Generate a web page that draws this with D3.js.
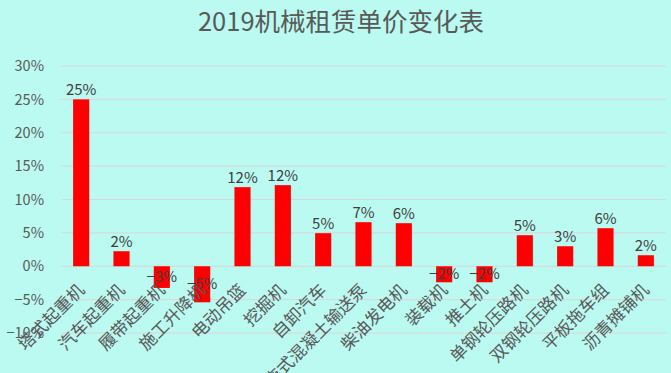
<!DOCTYPE html>
<html><head><meta charset="utf-8">
<script src="https://cdn.jsdelivr.net/npm/d3@7"></script>
<style>
html,body{margin:0;padding:0;background:#bbfaf0;}
svg{display:block;}
text{font-family:"Noto Sans CJK SC","Noto Sans",sans-serif;fill:#595959;}
</style></head>
<body>
<script>
const title = "2019机械租赁单价变化表";
const categories = ["塔式起重机","汽车起重机","履带起重机","施工升降机","电动吊篮","挖掘机","自卸汽车","拖式混凝土输送泵","柴油发电机","装载机","推土机","单钢轮压路机","双钢轮压路机","平板拖车组","沥青摊铺机"];
const values = [0.250,0.0225,-0.0325,-0.054,0.1185,0.1215,0.0495,0.066,0.0645,-0.024,-0.024,0.0465,0.030,0.057,0.0165];
const yTicks = [-0.10,-0.05,0,0.05,0.10,0.15,0.20,0.25,0.30];

const W=671,H=373;
const svg=d3.select("body").append("svg").attr("width",W).attr("height",H);
svg.append("rect").attr("width",W).attr("height",H).attr("fill","#bbfaf0");

const x=d3.scaleBand().domain(categories).range([61,666]).paddingInner(0.6).paddingOuter(0.3);
const y=d3.scaleLinear().domain([-0.10,0.30]).range([333,66]);
const fmt=d3.format(".0%");

svg.append("text").attr("x",341).attr("y",31).attr("text-anchor","middle")
  .style("font-size","25.5px").text(title);

// gridlines
svg.append("g").selectAll("line").data(yTicks).join("line")
  .attr("x1",61).attr("x2",666).attr("y1",d=>y(d)).attr("y2",d=>y(d))
  .attr("stroke","#dcd4d8").attr("stroke-width",1);

// y axis labels
const yAxis=d3.axisLeft(y).tickValues(yTicks).tickFormat(fmt).tickSize(0).tickPadding(0);
const ga=svg.append("g").attr("transform","translate(44,0)").call(yAxis);
ga.select(".domain").remove();
ga.selectAll("text").style("font-size","14.5px").attr("fill","#595959").attr("font-family",null);

// bars
svg.append("g").selectAll("rect").data(values).join("rect")
  .attr("x",(d,i)=>x(categories[i])).attr("width",x.bandwidth())
  .attr("y",d=>y(Math.max(0,d))).attr("height",d=>Math.abs(y(d)-y(0)))
  .attr("fill","#ff0000");

// data labels
svg.append("g").selectAll("text").data(values).join("text")
  .attr("x",(d,i)=>x(categories[i])+x.bandwidth()/2)
  .attr("y",d=> d>=0 ? y(d)-4 : (y(0)+y(d))/2+5)
  .attr("text-anchor","middle").style("font-size","15px").style("fill","#404040")
  .text(d=>fmt(d));

// x labels
const gx=svg.append("g");
gx.selectAll("text").data(categories).join("text")
  .attr("text-anchor","end").attr("dominant-baseline","central")
  .style("font-size","17px")
  .attr("transform",d=>`translate(${x(d)+x.bandwidth()/2-1},286) rotate(-45)`)
  .text(d=>d);
</script>
</body></html>
